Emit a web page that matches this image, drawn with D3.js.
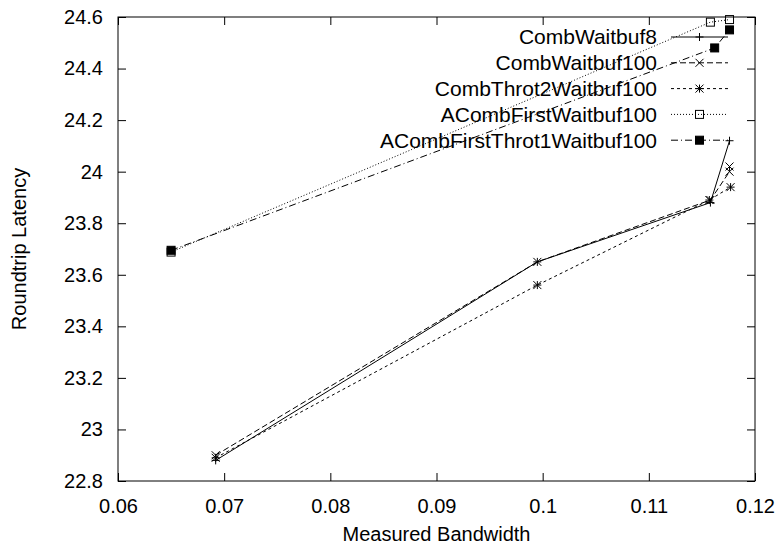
<!DOCTYPE html>
<html>
<head>
<meta charset="utf-8">
<script src="https://cdn.jsdelivr.net/npm/d3@7"></script>
<style>
  body { margin: 0; background: #fff; }
  text { font-family: "Liberation Sans", Arial, sans-serif; fill: #000; }
</style>
</head>
<body>
<svg id="chart"></svg>
<script>
// Series names (legend order)
const seriesNames = ["CombWaitbuf8", "CombWaitbuf100", "CombThrot2Waitbuf100",
                     "ACombFirstWaitbuf100", "ACombFirstThrot1Waitbuf100"];

// Measured bandwidth (x) and roundtrip latency (y) per series
const combWaitbuf8X = [0.0692, 0.0995, 0.1158, 0.1176];
const combWaitbuf8Y = [22.88, 23.65, 23.88, 24.12];

const combWaitbuf100X = [0.0692, 0.0995, 0.1158, 0.1176, 0.1176];
const combWaitbuf100Y = [22.90, 23.65, 23.89, 24.00, 24.02];

const combThrot2X = [0.0692, 0.0995, 0.1157, 0.1177];
const combThrot2Y = [22.89, 23.56, 23.89, 23.94];

const aCombFirstX = [0.0650, 0.1158, 0.1176];
const aCombFirstY = [23.688, 24.58, 24.59];

const aCombThrot1X = [0.0650, 0.1162, 0.1176];
const aCombThrot1Y = [23.695, 24.48, 24.55];

const xTicks = [0.06, 0.07, 0.08, 0.09, 0.1, 0.11, 0.12];
const yTicks = [22.8, 23, 23.2, 23.4, 23.6, 23.8, 24, 24.2, 24.4, 24.6];

const width = 779, height = 550;
const margin = { left: 118, right: 24, top: 17, bottom: 69 };

const svg = d3.select("#chart").attr("width", width).attr("height", height);

const x = d3.scaleLinear().domain([0.06, 0.12]).range([margin.left, width - margin.right]);
const y = d3.scaleLinear().domain([22.8, 24.6]).range([height - margin.bottom, margin.top]);

const styles = [
  { dash: null, marker: "plus" },
  { dash: "6,3", marker: "cross" },
  { dash: "3,3", marker: "star" },
  { dash: "1,2", marker: "box" },
  { dash: "7,3,1,3", marker: "fbox" }
];

const series = [
  [combWaitbuf8X, combWaitbuf8Y],
  [combWaitbuf100X, combWaitbuf100Y],
  [combThrot2X, combThrot2Y],
  [aCombFirstX, aCombFirstY],
  [aCombThrot1X, aCombThrot1Y]
].map((s, i) => ({
  name: seriesNames[i],
  style: styles[i],
  points: s[0].map((v, j) => [v, s[1][j]])
}));

// draw a marker at (px, py)
function drawMarker(g, type, px, py) {
  const r = 4;
  const m = g.append("g").attr("transform", `translate(${px},${py})`)
    .attr("stroke", "#000").attr("stroke-width", 1).attr("fill", "none");
  if (type === "plus" || type === "star") {
    m.append("path").attr("d", `M${-r},0H${r}M0,${-r}V${r}`);
  }
  if (type === "cross" || type === "star") {
    m.append("path").attr("d", `M${-r},${-r}L${r},${r}M${-r},${r}L${r},${-r}`);
  }
  if (type === "box") {
    m.append("rect").attr("x", -r).attr("y", -r).attr("width", 2 * r).attr("height", 2 * r);
  }
  if (type === "fbox") {
    m.append("rect").attr("x", -r).attr("y", -r).attr("width", 2 * r).attr("height", 2 * r)
      .attr("fill", "#000");
  }
}

// Frame
const x0 = x.range()[0], x1 = x.range()[1], y0 = y.range()[0], y1 = y.range()[1];
svg.append("rect").attr("x", x0).attr("y", y1).attr("width", x1 - x0).attr("height", y0 - y1)
  .attr("fill", "none").attr("stroke", "#000").attr("stroke-width", 1);

// Ticks (inward, mirrored) via axes
const tickLen = 8;
svg.append("g").attr("transform", `translate(0,${y0})`)
  .call(d3.axisBottom(x).tickValues(xTicks).tickSize(-tickLen).tickPadding(18)
    .tickFormat(d => String(+d.toFixed(2))));
svg.append("g").attr("transform", `translate(0,${y1})`)
  .call(d3.axisTop(x).tickValues(xTicks).tickSize(-tickLen).tickFormat(""));
svg.append("g").attr("transform", `translate(${x0},0)`)
  .call(d3.axisLeft(y).tickValues(yTicks).tickSize(-tickLen).tickPadding(15)
    .tickFormat(d => String(+d.toFixed(1))));
svg.append("g").attr("transform", `translate(${x1},0)`)
  .call(d3.axisRight(y).tickValues(yTicks).tickSize(-tickLen).tickFormat(""));

svg.selectAll(".domain").remove();
svg.selectAll(".tick line").attr("stroke", "#000");
svg.selectAll(".tick text").attr("font-size", 20)
  .attr("font-family", "'Liberation Sans', Arial, sans-serif").attr("fill", "#000");

// Axis titles
svg.append("text").attr("x", (x0 + x1) / 2).attr("y", 541).attr("text-anchor", "middle")
  .attr("font-size", 20).text("Measured Bandwidth");
svg.append("text").attr("transform", `translate(26,${(y0 + y1) / 2}) rotate(-90)`)
  .attr("text-anchor", "middle").attr("font-size", 20).text("Roundtrip Latency");

// Lines and markers
const line = d3.line().x(d => x(d[0])).y(d => y(d[1]));
const plot = svg.append("g");
series.forEach(s => {
  plot.append("path").datum(s.points).attr("d", line)
    .attr("fill", "none").attr("stroke", "#000").attr("stroke-width", 1)
    .attr("stroke-dasharray", s.style.dash);
  s.points.forEach(p => drawMarker(plot, s.style.marker, x(p[0]), y(p[1])));
});

// Legend
const legend = svg.append("g");
series.forEach((s, i) => {
  const ly = 37 + i * 25.8;
  legend.append("text").attr("x", 657).attr("y", ly).attr("dy", "0.35em")
    .attr("text-anchor", "end").attr("font-size", 21).text(s.name);
  legend.append("line").attr("x1", 671).attr("x2", 728).attr("y1", ly).attr("y2", ly)
    .attr("stroke", "#000").attr("stroke-width", 1).attr("stroke-dasharray", s.style.dash);
  drawMarker(legend, s.style.marker, 699.5, ly);
});
</script>
</body>
</html>
